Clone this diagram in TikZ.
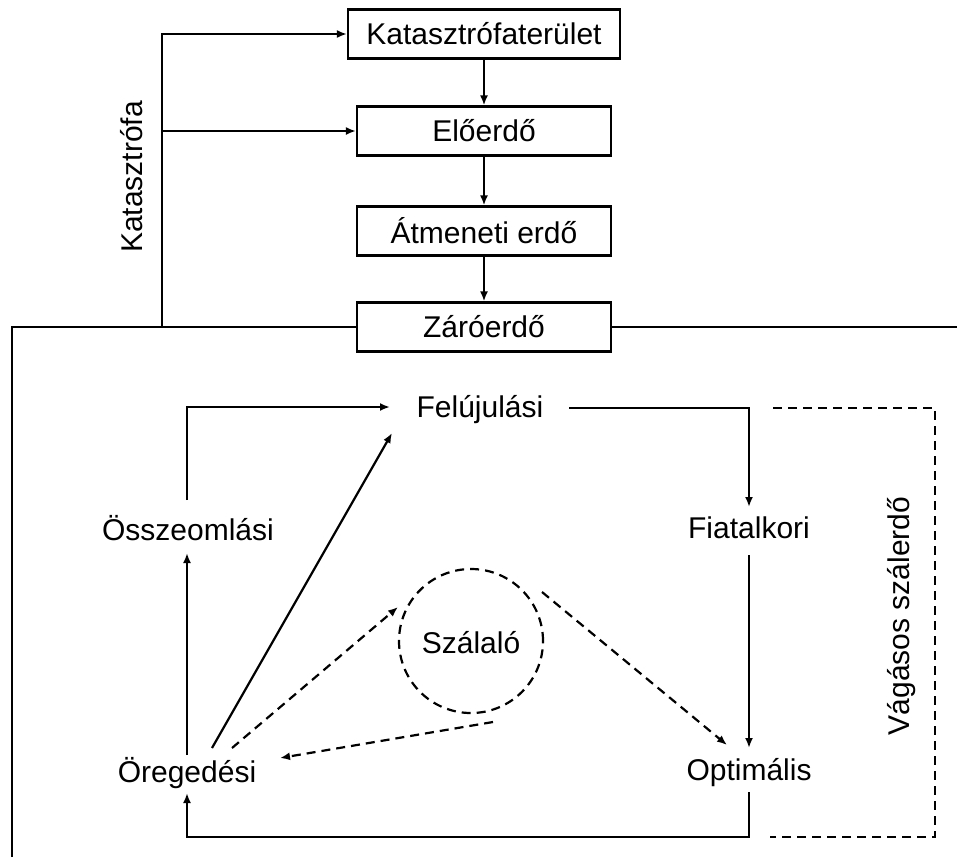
\documentclass[tikz,border=0pt]{standalone}
\usepackage{fontspec}
\setmainfont{Liberation Sans}
\usetikzlibrary{arrows.meta,calc}
\begin{document}
\begin{tikzpicture}[x=1pt,y=-1pt,
  every node/.style={font=\fontsize{30}{34}\selectfont},
  line/.style={line width=2.2pt},
  arr/.style={line, -{Latex[length=10pt,width=8pt]}},
  darr/.style={arr, dash pattern=on 9pt off 6pt},
  dline/.style={line, dash pattern=on 9pt off 6pt},
  box/.style={draw, line width=2.2pt, minimum height=49pt, inner sep=0pt},
  lbl/.style={inner sep=0pt}]
\useasboundingbox (0,0) rectangle (957,857);
% top chain
\node[box, minimum width=272pt] (kt) at (484,34) {Katasztrófaterület};
\node[box, minimum width=254pt] (e) at (484,131) {Előerdő};
\node[box, minimum width=254pt] (a) at (484,231) {Átmeneti erdő};
\node[box, minimum width=254pt] (z) at (484,327) {Záróerdő};
\draw[arr] (kt.south) -- (e.north);
\draw[arr] (e.south) -- (a.north);
\draw[arr] (a.south) -- (z.north);
% catastrophe branch
\coordinate (kb) at (162,327);
\draw[arr] (kb) |- (kt.west);
\draw[arr] (kb |- e.west) -- (e.west);
\node[lbl, rotate=90] (katl) at (132,177) {Katasztrófa};
% frame
\coordinate (fbl) at (12,857);
\coordinate (fr) at (957,327);
\draw[line] (fbl) |- (z.west);
\draw[line] (z.east) -- (fr);
% cycle nodes
\node[lbl] (fel) at (480,410) {Felújulási};
\node[lbl] (ossz) at (188,528) {Összeomlási};
\node[lbl] (oreg) at (187,773) {Öregedési};
\node[lbl] (fiat) at (749,528) {Fiatalkori};
\node[lbl] (opt) at (749,773) {Optimális};
\node[draw, circle, dline, minimum size=144pt, inner sep=0pt] (sz) at (471,641) {};
\node[lbl] (szl) at (471,643) {Szálaló};
% solid connectors
\draw[arr] ($(ossz)+(-1,-28)$) |- ($(fel)+(-90,-3)$);
\draw[arr] ($(fel)+(89,-2)$) -| ($(fiat)+(0,-21)$);
\draw[arr] ($(fiat)+(0,27)$) -- ($(opt)+(0,-25)$);
\draw[arr] ($(opt)+(0,19)$) -- ($(opt)+(0,64)$) -| ($(oreg)+(0,20)$);
\draw[arr] ($(oreg)+(0,-18)$) -- ($(ossz)+(-1,25)$);
\draw[arr] ($(oreg)+(25,-25)$) -- ($(fel)+(-88,23)$);
% dashed connectors
\draw[darr] ($(oreg)+(45,-25)$) -- ($(sz)+(-73,-34)$);
\draw[darr] ($(sz)+(22,81)$) -- ($(oreg)+(93,-15)$);
\draw[darr] ($(sz)+(71,-49)$) -- ($(opt)+(-22,-28)$);
% bracket
\coordinate (b1) at (773,408);
\coordinate (b2) at (935,408);
\coordinate (b3) at (935,837);
\coordinate (b4) at (770,837);
\draw[dline] (b1) -- (b2) -- (b3) -- (b4);
\node[lbl, rotate=90] (vsz) at (902,616) {Vágásos szálerdő};
\end{tikzpicture}
\end{document}
